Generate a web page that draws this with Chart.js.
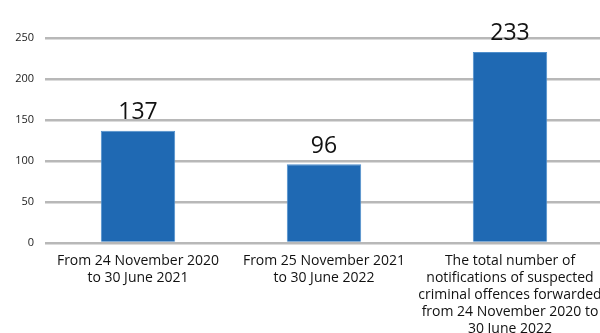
<!DOCTYPE html>
<html>
<head>
<meta charset="utf-8">
<script src="https://cdn.jsdelivr.net/npm/chart.js@4.4.0/dist/chart.umd.min.js"></script>
<style>
  html, body { margin: 0; padding: 0; background: #fff; overflow: hidden; }
  #wrap { width: 606px; height: 333px; position: relative; }
</style>
</head>
<body>
<div id="wrap"><canvas id="barChart"></canvas></div>
<script>
"use strict";

const periods = [
  ['From 24 November 2020', 'to 30 June 2021'],
  ['From 25 November 2021', 'to 30 June 2022'],
  ['The total number of', 'notifications of suspected', 'criminal offences forwarded', 'from 24 November 2020 to', '30 June 2022']
];
const notifications = [137, 96, 233];
const yTicks = [0, 50, 100, 150, 200, 250];

// writes the count above each bar
const valueLabels = {
  id: 'valueLabels',
  afterDatasetsDraw(chart) {
    const ctx = chart.ctx;
    const meta = chart.getDatasetMeta(0);
    ctx.save();
    ctx.font = '23px "Open Sans", sans-serif';
    ctx.fillStyle = '#111';
    ctx.textAlign = 'center';
    ctx.textBaseline = 'middle';
    meta.data.forEach((bar, i) => {
      ctx.fillText(String(notifications[i]), bar.x, bar.y - 18);
    });
    ctx.restore();
  }
};

const ctx = document.getElementById('barChart').getContext('2d');
const myChart = new Chart(ctx, {
  type: 'bar',
  data: {
    labels: periods,
    datasets: [{
      data: notifications,
      backgroundColor: '#1f69b3',
      borderColor: '#4f8fcc',
      borderWidth: 1,
      categoryPercentage: 1.0,
      barPercentage: 0.4
    }]
  },
  options: {
    responsive: true,
    maintainAspectRatio: false,
    animation: false,
    layout: { padding: { top: 38, right: 3, left: 0, bottom: 0 } },
    plugins: {
      legend: { display: false },
      tooltip: { enabled: false }
    },
    scales: {
      x: {
        grid: { display: false },
        border: { display: false },
        ticks: {
          color: '#111',
          padding: 1,
          maxRotation: 0,
          autoSkip: false,
          font: { family: '"Open Sans", sans-serif', size: 14, lineHeight: 1.23 }
        },
        afterFit: (axis) => {
          axis.height = 90;
          // let the long last label run off the edge instead of shrinking the plot
          axis.paddingLeft = 0;
          axis.paddingRight = 0;
        }
      },
      y: {
        min: 0,
        max: 250,
        afterBuildTicks: (axis) => { axis.ticks = yTicks.map(v => ({ value: v })); },
        grid: { color: '#b8b8b8', lineWidth: 2.5, drawTicks: false },
        border: { display: false },
        ticks: {
          color: '#222',
          padding: 11,
          font: { family: '"Open Sans", sans-serif', size: 11 }
        },
        afterFit: (axis) => { axis.width = 45; }
      }
    }
  },
  plugins: [valueLabels]
});
</script>
</body>
</html>
